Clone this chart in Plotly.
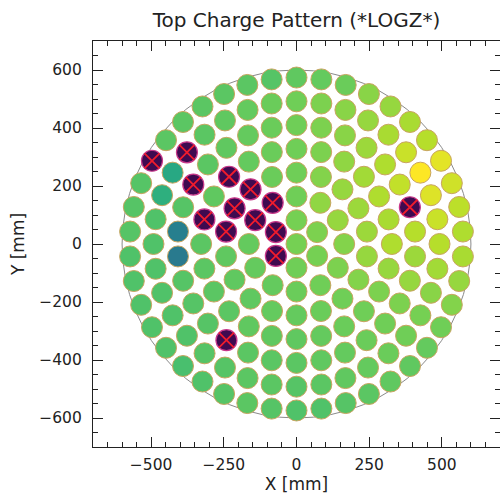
import numpy as np
import plotly.graph_objects as go

# ---------------- data ----------------
# PMT rings of the top array: radius (mm) and number of PMTs per ring
RING_RADII_MM = [0, 82, 164, 246, 328, 410, 492, 574]
RING_COUNTS = [1, 6, 12, 18, 24, 30, 36, 42]
RING_START_DEG = 90.0

# charge per PMT (PE), listed ring by ring counter-clockwise from the top; 0 = dead / excluded PMT
charge_ring0 = [94]
charge_ring1 = [94, 0, 0, 89, 94, 100]
charge_ring2 = [89, 0, 0, 79, 79, 79, 84, 89, 100, 106, 126, 119]
charge_ring3 = [89, 84, 0, 0, 0, 75, 75, 75, 79, 79, 84, 89, 106, 126, 133, 133, 126, 106]
charge_ring4 = [89, 84, 79, 0, 75, 0, 71, 71, 71, 71, 75, 75, 75, 79, 84, 89, 100, 126,
                158, 150, 158, 141, 119, 100]
charge_ring5 = [89, 84, 79, 75, 71, 0, 67, 12, 10.6, 67, 67, 67, 0, 71, 71, 71, 75, 79,
                84, 89, 100, 126, 133, 168, 0, 188, 158, 133, 112, 100]
charge_ring6 = [89, 84, 79, 75, 71, 0, 31.6, 37.6, 63, 63, 63, 63, 63, 63, 67, 67, 71, 71,
                67, 71, 75, 79, 84, 89, 94, 112, 141, 168, 200, 237, 316, 200, 150, 126, 112, 100]
charge_ring7 = [75, 67, 71, 71, 71, 71, 71, 0, 67, 67, 67, 63, 63, 63, 63, 63, 58, 63,
                67, 71, 67, 63, 63, 67, 71, 75, 75, 79, 89, 106, 126, 150, 158, 178, 211, 251,
                168, 150, 126, 112, 84, 79]
charges = [charge_ring0, charge_ring1, charge_ring2, charge_ring3,
           charge_ring4, charge_ring5, charge_ring6, charge_ring7]

TPC_RADIUS_MM = 600
LOG_MIN, LOG_MAX = 0.0, 2.5

# ---------------- geometry ----------------
xs, ys, qs = [], [], []
for r, n, q in zip(RING_RADII_MM, RING_COUNTS, charges):
    ang = np.deg2rad(RING_START_DEG + 360.0 * np.arange(n) / n)
    xs.extend(r * np.cos(ang))
    ys.extend(r * np.sin(ang))
    qs.extend(q)
xs, ys, qs = np.array(xs), np.array(ys), np.array(qs, dtype=float)
alive = qs > 0

fig = go.Figure()
fig.add_shape(type="circle", xref="x", yref="y",
              x0=-TPC_RADIUS_MM, x1=TPC_RADIUS_MM, y0=-TPC_RADIUS_MM, y1=TPC_RADIUS_MM,
              line=dict(color="#8a8a8a", width=1), layer="below")

fig.add_trace(go.Scatter(
    x=xs[alive], y=ys[alive], mode="markers", hoverinfo="skip", showlegend=False,
    marker=dict(size=21, color=np.log10(qs[alive]), colorscale="Viridis",
                cmin=LOG_MIN, cmax=LOG_MAX, line=dict(color="#c9a460", width=1))))
fig.add_trace(go.Scatter(
    x=xs[~alive], y=ys[~alive], mode="markers", hoverinfo="skip", showlegend=False,
    marker=dict(size=21, color="#3f0a50", line=dict(color="#c8388a", width=1.2))))
fig.add_trace(go.Scatter(
    x=xs[~alive], y=ys[~alive], mode="markers", hoverinfo="skip", showlegend=False,
    marker=dict(size=15, symbol="x-thin", color="#f01c2c", line=dict(color="#f01c2c", width=1.8))))

font_fam = "DejaVu Sans"
axis_common = dict(
    range=[-700, 700], showgrid=False, zeroline=False, showline=True,
    linecolor="#222", linewidth=1.3, mirror="allticks",
    ticks="inside", ticklen=10, tickwidth=1.2, tickcolor="#222",
    tickfont=dict(family=font_fam, size=15.5, color="#222"),
    minor=dict(ticks="inside", ticklen=5, tickwidth=1, tickcolor="#222", dtick=50, showgrid=False),
)
fig.update_xaxes(**axis_common, tick0=0, dtick=250, ticklabelstandoff=3,
                 title=dict(text="X [mm]", font=dict(family=font_fam, size=17, color="#222"), standoff=4))
fig.update_yaxes(**axis_common, tick0=0, dtick=200, ticklabelstandoff=7,
                 title=dict(text="Y [mm]", font=dict(family=font_fam, size=17, color="#222"), standoff=10))

fig.update_layout(
    width=500, height=494,
    margin=dict(l=93, r=0, t=41, b=47),
    paper_bgcolor="white", plot_bgcolor="white",
    title=dict(text="Top Charge Pattern (*LOGZ*)", x=0.5, xref="paper", xanchor="center",
               y=1 - 20 / 494, yref="container", yanchor="middle",
               font=dict(family=font_fam, size=20, color="#222")),
)

fig.write_html("out.html")
